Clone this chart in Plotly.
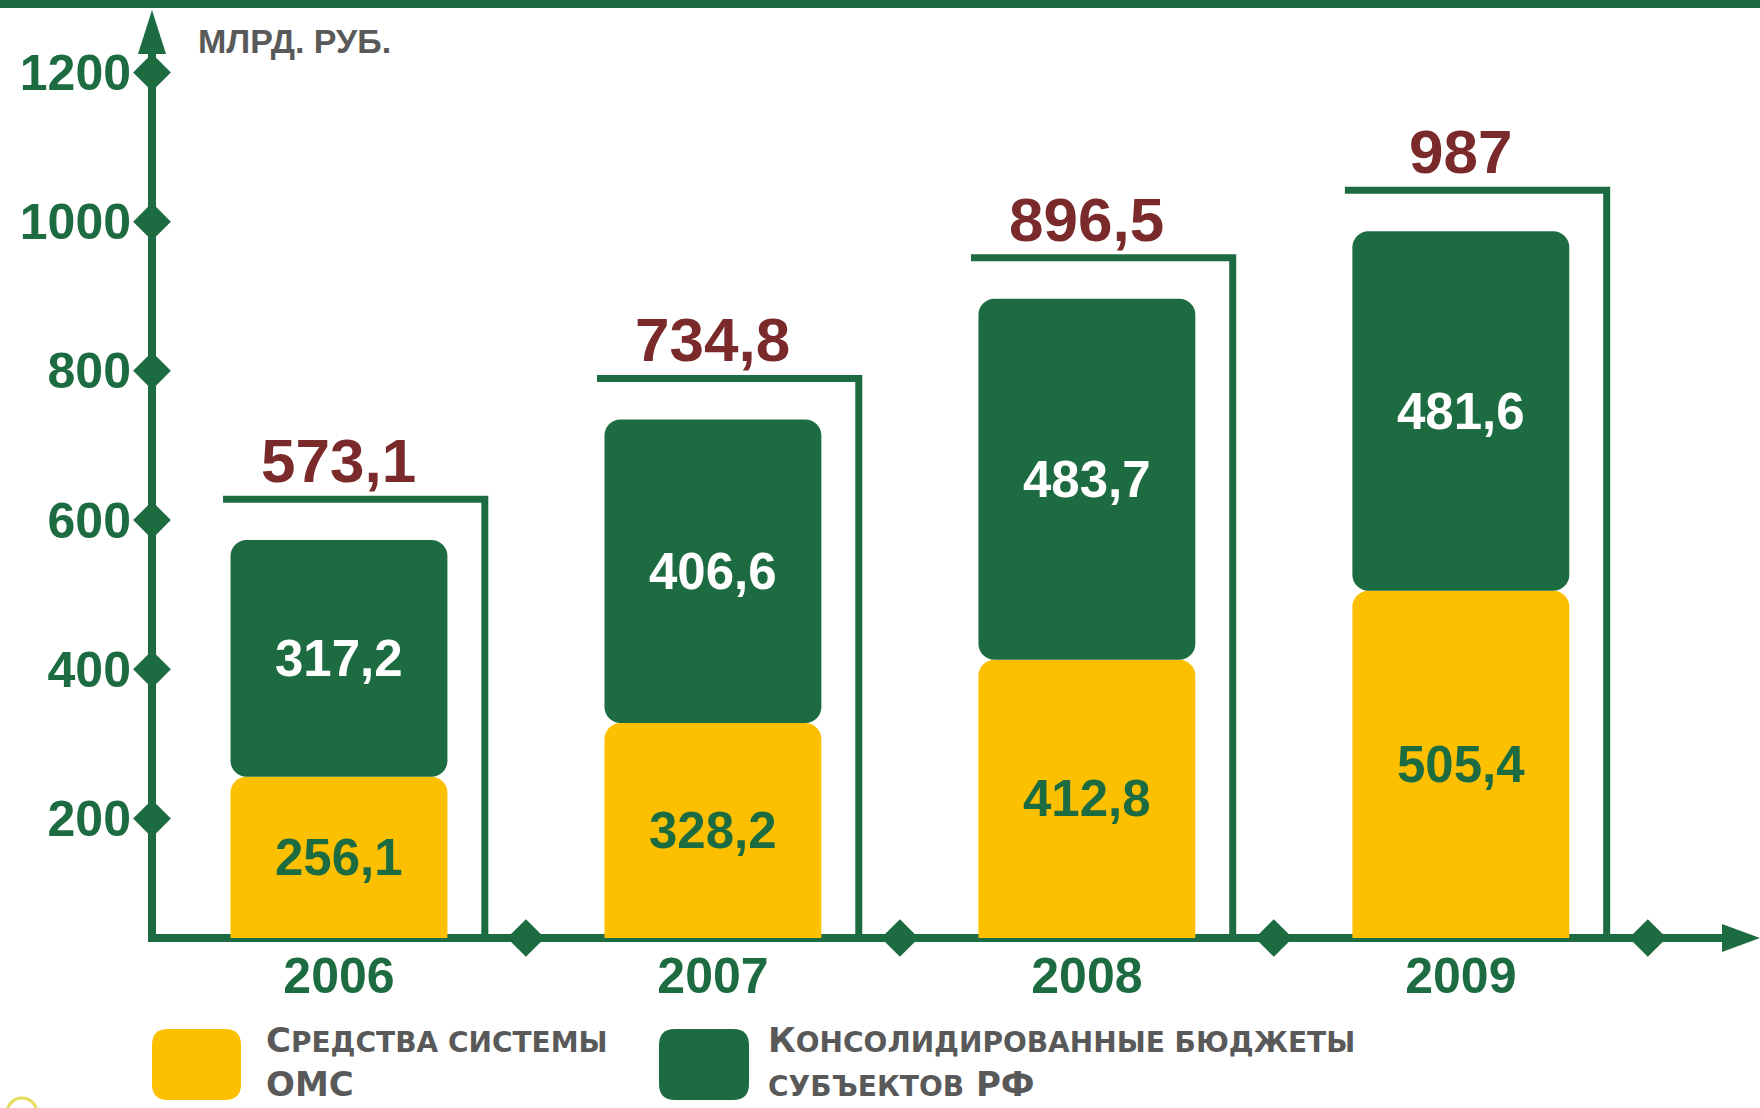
import plotly.graph_objects as go

# ---------------- data ----------------
years = ["2006", "2007", "2008", "2009"]
oms_funds = [256.1, 328.2, 412.8, 505.4]          # Средства системы ОМС
regional_budgets = [317.2, 406.6, 483.7, 481.6]   # Консолидированные бюджеты субъектов РФ
totals = [573.1, 734.8, 896.5, 987]
y_ticks = [200, 400, 600, 800, 1000, 1200]
unit_text = "МЛРД. РУБ."
legend_oms = "С<span style='font-size:28px'>РЕДСТВА СИСТЕМЫ</span><br>ОМС"
legend_budgets = ("К<span style='font-size:28px'>ОНСОЛИДИРОВАННЫЕ БЮДЖЕТЫ</span><br>"
                  "<span style='font-size:28px'>СУБЪЕКТОВ</span> РФ")

# ---------------- style ----------------
GREEN = "#1d6b41"
YELLOW = "#fdc000"
RED = "#7a2a2a"
GRAY = "#595959"
FONT = "Liberation Sans, Arial, sans-serif"
LEG_FONT = "DejaVu Sans, Liberation Sans, sans-serif"

W, H = 1760, 1108
ML, MR, MT, MB = 152, 0, 0, 170
PW, PH = W - ML - MR, H - MT - MB
Y_RANGE = [40, 1297]
X_RANGE = [-0.5, 3.8]
BAR_W = 0.58
BRACKET_GAP = 55
AXIS_W = 8


def fmt(v):
    return f"{v:.1f}".rstrip("0").rstrip(".").replace(".", ",")


def px_x(p):   # pixel -> paper
    return (p - ML) / PW


def px_y(p):
    return (MT + PH - p) / PH


def rounded_rect(x0, y0, x1, y1, r):
    def P(x, y):
        return f"{px_x(x)},{px_y(y)}"
    return (f"M {P(x0 + r, y0)} L {P(x1 - r, y0)} Q {P(x1, y0)} {P(x1, y0 + r)} "
            f"L {P(x1, y1 - r)} Q {P(x1, y1)} {P(x1 - r, y1)} L {P(x0 + r, y1)} "
            f"Q {P(x0, y1)} {P(x0, y1 - r)} L {P(x0, y0 + r)} Q {P(x0, y0)} {P(x0 + r, y0)} Z")


xs = list(range(len(years)))
fig = go.Figure()

# stacked segments (overlay with explicit bases so every segment gets rounded top corners)
stack_top = [a + b for a, b in zip(oms_funds, regional_budgets)]
fig.add_trace(go.Bar(x=xs, y=oms_funds, base=[0] * len(xs), width=BAR_W,
                     marker=dict(color=YELLOW, line=dict(width=0)),
                     showlegend=False, hoverinfo="skip"))
fig.add_trace(go.Bar(x=xs, y=regional_budgets, base=oms_funds, width=BAR_W,
                     marker=dict(color=GREEN, line=dict(width=0)),
                     showlegend=False, hoverinfo="skip"))

# brackets above each bar with totals
for i, t in enumerate(totals):
    by = t + BRACKET_GAP
    fig.add_trace(go.Scatter(
        x=[i - 0.31, i + 0.39, i + 0.39], y=[by, by, Y_RANGE[0]],
        mode="lines", line=dict(color=GREEN, width=7),
        showlegend=False, hoverinfo="skip", cliponaxis=False))
    fig.add_annotation(x=i, y=by, text=fmt(t), showarrow=False,
                       xanchor="center", yanchor="bottom", yshift=2,
                       font=dict(family=FONT, size=62, color=RED, weight="bold"))

# segment labels
for i in xs:
    lo = max(0, Y_RANGE[0])
    fig.add_annotation(x=i, y=(lo + oms_funds[i]) / 2, text=fmt(oms_funds[i]),
                       showarrow=False,
                       font=dict(family=FONT, size=51, color=GREEN, weight="bold"))
    fig.add_annotation(x=i, y=(oms_funds[i] + stack_top[i]) / 2, text=fmt(regional_budgets[i]),
                       showarrow=False,
                       font=dict(family=FONT, size=51, color="white", weight="bold"))

# axis lines + arrows and other decoration
shapes = [
    dict(type="rect", xref="paper", yref="paper", x0=px_x(0), x1=px_x(W), y0=px_y(8), y1=px_y(0),
         fillcolor=GREEN, line=dict(width=0)),
    dict(type="line", xref="paper", yref="paper", x0=0, x1=0, y0=px_y(MT + PH + 4), y1=px_y(50),
         line=dict(color=GREEN, width=AXIS_W), layer="below"),
    dict(type="line", xref="paper", yref="paper", x0=px_x(ML - 4), x1=px_x(1726), y0=0, y1=0,
         line=dict(color=GREEN, width=AXIS_W), layer="below"),
    dict(type="path", xref="paper", yref="paper",
         path=f"M {px_x(ML)},{px_y(10)} L {px_x(ML + 14)},{px_y(54)} L {px_x(ML - 14)},{px_y(54)} Z",
         fillcolor=GREEN, line=dict(width=0)),
    dict(type="path", xref="paper", yref="paper",
         path=f"M {px_x(W)},0 L {px_x(1722)},{px_y(MT + PH - 14)} L {px_x(1722)},{px_y(MT + PH + 14)} Z",
         fillcolor=GREEN, line=dict(width=0)),
    # legend swatches
    dict(type="path", xref="paper", yref="paper", path=rounded_rect(152, 1029, 241, 1100, 16),
         fillcolor=YELLOW, line=dict(width=0)),
    dict(type="path", xref="paper", yref="paper", path=rounded_rect(659, 1029, 749, 1100, 16),
         fillcolor=GREEN, line=dict(width=0)),
    # partial logo ring bottom-left
    dict(type="circle", xref="paper", yref="paper", x0=px_x(7), x1=px_x(37), y0=px_y(1128), y1=px_y(1098),
         line=dict(color="#e6dc5c", width=3)),
]

# diamonds on the axes
fig.add_trace(go.Scatter(
    x=[X_RANGE[0]] * len(y_ticks), y=y_ticks, mode="markers",
    marker=dict(symbol="diamond", size=29, color=GREEN, line=dict(width=0)),
    showlegend=False, hoverinfo="skip", cliponaxis=False))
fig.add_trace(go.Scatter(
    x=[i + 0.5 for i in xs], y=[Y_RANGE[0]] * len(xs), mode="markers",
    marker=dict(symbol="diamond", size=29, color=GREEN, line=dict(width=0)),
    showlegend=False, hoverinfo="skip", cliponaxis=False))

annotations_extra = [
    dict(xref="paper", yref="paper", x=px_x(196), y=px_y(20), xanchor="left", yanchor="top",
         text=unit_text, showarrow=False,
         font=dict(family=FONT, size=34, color=GRAY, weight="bold")),
    dict(xref="paper", yref="paper", x=px_x(264), y=px_y(1018), xanchor="left", yanchor="top",
         text=legend_oms, showarrow=False, align="left",
         font=dict(family=LEG_FONT, size=34, color=GRAY, weight="bold")),
    dict(xref="paper", yref="paper", x=px_x(766), y=px_y(1018), xanchor="left", yanchor="top",
         text=legend_budgets, showarrow=False, align="left",
         font=dict(family=LEG_FONT, size=34, color=GRAY, weight="bold")),
]
for a in annotations_extra:
    fig.add_annotation(**a)

fig.update_layout(
    width=W, height=H,
    margin=dict(l=ML, r=MR, t=MT, b=MB, pad=0),
    paper_bgcolor="white", plot_bgcolor="white",
    barmode="overlay", barcornerradius=16,
    showlegend=False,
    shapes=shapes,
    xaxis=dict(range=X_RANGE, tickvals=xs, ticktext=years, showgrid=False, zeroline=False,
               showline=False, ticks="", ticklabelstandoff=4,
               tickfont=dict(family=FONT, size=50, color=GREEN, weight="bold")),
    yaxis=dict(range=Y_RANGE, tickvals=y_ticks, ticktext=[str(v) for v in y_ticks],
               showgrid=False, zeroline=False, showline=False, ticks="", ticklabelstandoff=20,
               tickfont=dict(family=FONT, size=50, color=GREEN, weight="bold")),
)

fig.write_html("out.html", config={"displayModeBar": False},
               post_script="document.body.style.margin='0px';")
